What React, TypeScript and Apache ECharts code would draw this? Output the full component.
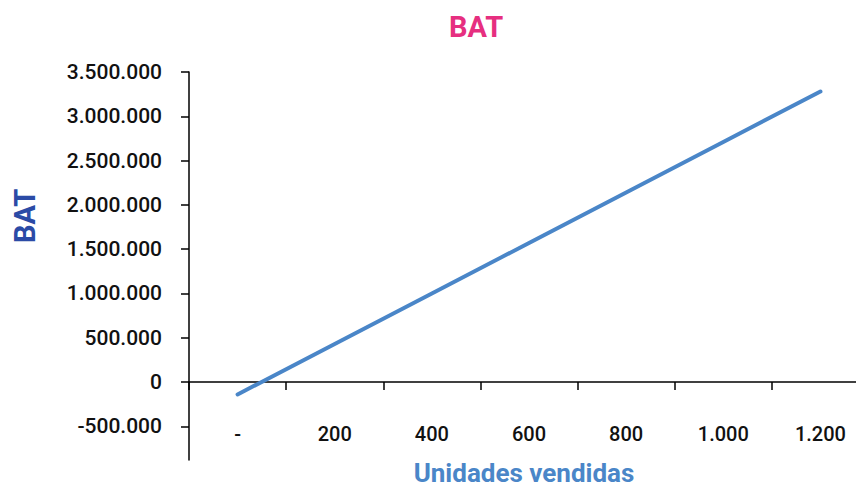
import React, { useEffect, useRef } from "react";
import * as echarts from "echarts";

const categories = ["0", "200", "400", "600", "800", "1000", "1200"];
const batValues = [-140000, 430000, 1000000, 1570000, 2140000, 2710000, 3280000];
const yTickValues = [-500000, 0, 500000, 1000000, 1500000, 2000000, 2500000, 3000000, 3500000];
const chartTitle = "BAT";
const yTitle = "BAT";
const xTitle = "Unidades vendidas";

const fmt = (v: number) => {
  if (v === 0) return "0";
  const s = Math.abs(v).toString().replace(/\B(?=(\d{3})+(?!\d))/g, ".");
  return (v < 0 ? "-" : "") + s;
};

const FONT = "Roboto, 'DejaVu Sans', sans-serif";

export default function App() {
  const ref = useRef<HTMLDivElement>(null);
  useEffect(() => {
    if (!ref.current) return;
    const chart = echarts.init(ref.current, undefined, { renderer: "svg" });
    chart.setOption({
      animation: false,
      backgroundColor: "#ffffff",
      title: {
        text: chartTitle,
        left: 471,
        top: 7,
        textAlign: "center",
        textStyle: { color: "#E62F80", fontSize: 29, fontWeight: "bold", fontFamily: FONT },
      },
      grid: {
        left: 189,
        top: 72,
        width: 680,
        height: 388,
        containLabel: false,
        outerBoundsMode: "none",
      },
      xAxis: {
        type: "category",
        data: categories,
        boundaryGap: true,
        axisLine: { show: true, onZero: true, lineStyle: { color: "#000", width: 1.5 } },
        axisTick: { show: true, length: 8, lineStyle: { color: "#000", width: 1.5 } },
        axisLabel: {
          margin: -36,
          color: "#111",
          fontSize: 20,
          fontWeight: 500,
          fontFamily: FONT,
          formatter: (v: string) => (Number(v) === 0 ? "-" : fmt(Number(v))),
        },
        splitLine: { show: false },
      },
      yAxis: {
        type: "value",
        min: -880000,
        max: 3500000,
        axisLine: { show: true, lineStyle: { color: "#000", width: 1.5 } },
        axisTick: { show: true, length: 8, customValues: yTickValues, lineStyle: { color: "#000", width: 1.5 } },
        axisLabel: {
          margin: 27,
          color: "#111",
          fontSize: 21,
          fontWeight: 500,
          fontFamily: FONT,
          customValues: yTickValues,
          formatter: (v: number) => fmt(v),
        },
        splitLine: { show: false },
      },
      graphic: [
        {
          type: "text",
          x: 25,
          y: 216,
          rotation: Math.PI / 2,
          style: {
            text: yTitle,
            fill: "#2B4BA6",
            font: "bold 29px " + FONT,
            align: "center",
            verticalAlign: "middle",
          },
        },
        {
          type: "text",
          x: 524,
          y: 473,
          style: {
            text: xTitle,
            fill: "#4A86C8",
            font: "bold 26px " + FONT,
            align: "center",
            verticalAlign: "middle",
          },
        },
      ],
      series: [
        {
          type: "line",
          data: batValues,
          showSymbol: false,
          symbol: "none",
          lineStyle: { color: "#4A86C8", width: 4, cap: "round" },
        },
      ],
    });
    return () => chart.dispose();
  }, []);
  return (
    <div
      ref={ref}
      style={{ position: "absolute", left: 0, top: 0, width: 856, height: 488 }}
    />
  );
}
